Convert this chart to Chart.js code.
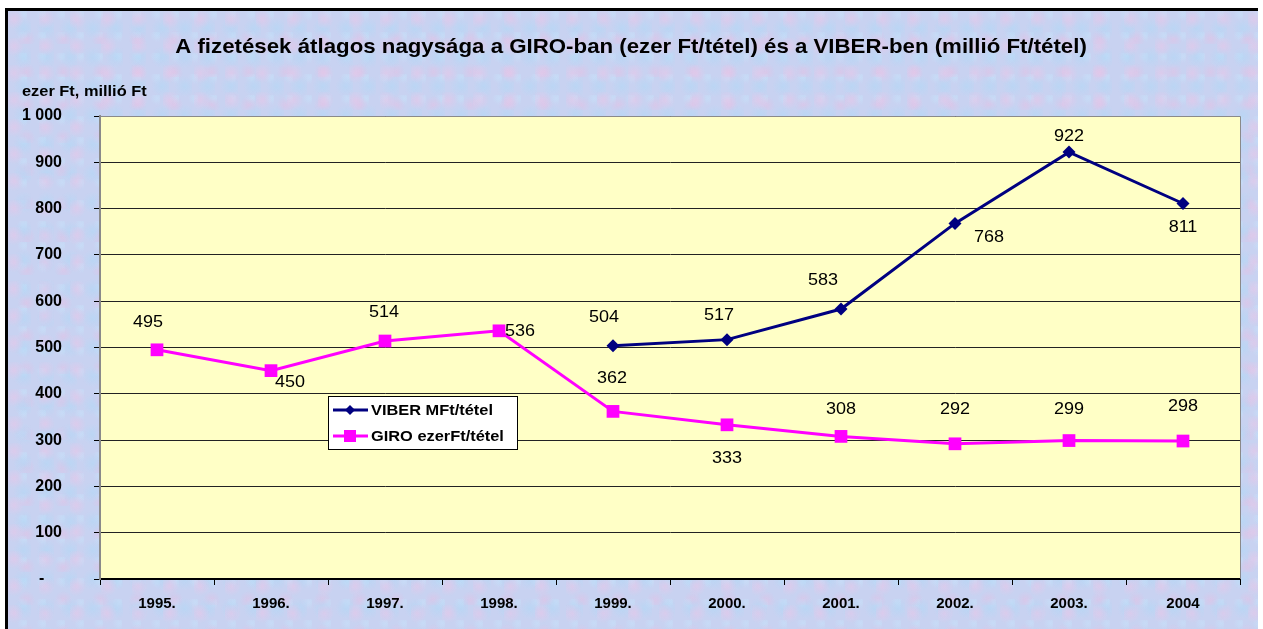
<!DOCTYPE html>
<html>
<head>
<meta charset="utf-8">
<script src="https://cdn.jsdelivr.net/npm/chart.js@4"></script>
<style>
  html, body { margin: 0; padding: 0; background: #fff; }
  body { width: 1263px; height: 629px; position: relative; overflow: hidden; }
  #frame {
    position: absolute; left: 5px; top: 8px; width: 1250px; height: 630px;
    border-left: 3px solid #000; border-top: 3px solid #000;
    background-color: #c8d2f1;
    background-image:
      radial-gradient(circle at 20% 30%, rgba(232,198,232,0.6) 0, rgba(232,198,232,0) 10px),
      radial-gradient(circle at 70% 60%, rgba(178,216,246,0.6) 0, rgba(178,216,246,0) 11px),
      radial-gradient(circle at 50% 85%, rgba(228,192,228,0.55) 0, rgba(228,192,228,0) 9px),
      radial-gradient(circle at 85% 15%, rgba(198,226,250,0.6) 0, rgba(198,226,250,0) 7px);
    background-size: 31px 27px, 23px 29px, 37px 33px, 19px 21px;
  }
  #wrap { position: absolute; left: 0; top: 0; width: 1263px; height: 629px; }
</style>
</head>
<body>
<div id="frame"></div>
<div id="wrap"><canvas id="c" width="1263" height="629"></canvas></div>
<script>
(() => {
  'use strict';

  const years = ['1995.', '1996.', '1997.', '1998.', '1999.', '2000.', '2001.', '2002.', '2003.', '2004'];
  const viber = [null, null, null, null, 504, 517, 583, 768, 922, 811];
  const giro = [495, 450, 514, 536, 362, 333, 308, 292, 299, 298];
  const yTicks = [0, 100, 200, 300, 400, 500, 600, 700, 800, 900, 1000];

  const TITLE = 'A fizetések átlagos nagysága a GIRO-ban (ezer Ft/tétel) és a VIBER-ben (millió Ft/tétel)';
  const Y_TITLE = 'ezer Ft, millió Ft';

  const FONT = 'Arial, "Liberation Sans", sans-serif';

  // label offsets (px) relative to each point, as placed in the original
  const viberLabelOff = [null, null, null, null, [-9, -28], [-8, -24], [-18, -29], [34, 14], [0, -16], [0, 24]];
  const giroLabelOff = [[-9, -28], [19, 12], [-1, -29], [21, 0], [-1, -33], [0, 33], [0, -27], [0, -34], [0, -31], [0, -35]];

  const fmt = v => {
    if (v === 0) return '-    ';
    return String(v).replace(/\B(?=(\d{3})+(?!\d))/g, ' ');
  };

  // text drawn slightly wider, like the stretched original
  function wideText(ctx, txt, x, y, sx) {
    ctx.save();
    ctx.translate(x, y);
    ctx.scale(sx, 1);
    ctx.fillText(txt, 0, 0);
    ctx.restore();
  }

  const chartDecor = {
    id: 'chartDecor',
    beforeDraw(chart) {
      const { ctx, chartArea: a } = chart;
      ctx.save();
      ctx.fillStyle = '#ffffc6';
      ctx.fillRect(a.left, a.top, a.right - a.left, a.bottom - a.top);
      ctx.restore();
    },
    afterDraw(chart) {
      const { ctx, chartArea: a } = chart;
      ctx.save();
      // plot border (top/right)
      ctx.strokeStyle = '#8a8a8a';
      ctx.lineWidth = 1;
      ctx.beginPath();
      ctx.moveTo(a.left, a.top + 0.5);
      ctx.lineTo(a.right + 0.5, a.top + 0.5);
      ctx.lineTo(a.right + 0.5, a.bottom);
      ctx.stroke();

      // titles
      ctx.fillStyle = '#000';
      ctx.font = 'bold 21px ' + FONT;
      ctx.textAlign = 'center';
      ctx.textBaseline = 'middle';
      wideText(ctx, TITLE, 631, 47, 1.06);
      ctx.font = 'bold 14px ' + FONT;
      ctx.textAlign = 'left';
      wideText(ctx, Y_TITLE, 22, 92, 1.17);

      // data labels
      ctx.font = '17px ' + FONT;
      ctx.textAlign = 'center';
      const offs = [viberLabelOff, giroLabelOff];
      chart.data.datasets.forEach((ds, i) => {
        const meta = chart.getDatasetMeta(i);
        meta.data.forEach((pt, j) => {
          const v = ds.data[j];
          if (v === null || !offs[i][j]) return;
          wideText(ctx, String(v), pt.x + offs[i][j][0], pt.y + offs[i][j][1], 1.06);
        });
      });

      // legend box inside the plot
      const lx = 328, ly = 396, lw = 189, lh = 53;
      ctx.fillStyle = '#fff';
      ctx.fillRect(lx, ly, lw, lh);
      ctx.strokeStyle = '#000';
      ctx.lineWidth = 1;
      ctx.strokeRect(lx + 0.5, ly + 0.5, lw, lh);
      const items = [
        { ds: chart.data.datasets[0], y: ly + 14 },
        { ds: chart.data.datasets[1], y: ly + 40 }
      ];
      items.forEach(it => {
        ctx.strokeStyle = it.ds.borderColor;
        ctx.lineWidth = 3;
        ctx.beginPath();
        ctx.moveTo(lx + 5, it.y);
        ctx.lineTo(lx + 40, it.y);
        ctx.stroke();
        ctx.fillStyle = it.ds.borderColor;
        if (it.ds.pointStyle === 'rectRot') {
          ctx.beginPath();
          ctx.moveTo(lx + 22 - 5, it.y);
          ctx.lineTo(lx + 22, it.y - 5);
          ctx.lineTo(lx + 22 + 5, it.y);
          ctx.lineTo(lx + 22, it.y + 5);
          ctx.closePath();
          ctx.fill();
        } else {
          ctx.fillRect(lx + 22 - 6, it.y - 6, 12, 12);
        }
        ctx.fillStyle = '#000';
        ctx.font = 'bold 14px ' + FONT;
        ctx.textAlign = 'left';
        wideText(ctx, it.ds.label, lx + 43, it.y + 1, 1.17);
      });
      ctx.restore();
    }
  };

  new Chart(document.getElementById('c'), {
    type: 'line',
    data: {
      labels: years,
      datasets: [
        {
          label: 'VIBER MFt/tétel',
          data: viber,
          borderColor: '#000080',
          backgroundColor: '#000080',
          borderWidth: 3,
          pointStyle: 'rectRot',
          pointRadius: 6.5,
          pointBorderWidth: 0,
          tension: 0,
          spanGaps: false
        },
        {
          label: 'GIRO ezerFt/tétel',
          data: giro,
          borderColor: '#ff00ff',
          backgroundColor: '#ff00ff',
          borderWidth: 3,
          pointStyle: 'rect',
          pointRadius: 9,
          pointBorderWidth: 0,
          tension: 0
        }
      ]
    },
    options: {
      responsive: false,
      animation: false,
      layout: { padding: { top: 116, right: 23, left: 0, bottom: 0 } },
      plugins: {
        legend: { display: false },
        title: { display: false },
        tooltip: { enabled: false }
      },
      scales: {
        x: {
          offset: true,
          grid: {
            offset: true,
            drawOnChartArea: false,
            drawTicks: true,
            tickLength: 6,
            color: '#000'
          },
          border: { color: '#000', width: 2 },
          ticks: {
            color: '#000',
            font: { family: FONT, size: 15, weight: 'bold' },
            padding: 10,
            maxRotation: 0
          },
          afterFit(scale) { scale.height = 50; }
        },
        y: {
          min: 0,
          max: 1000,
          afterBuildTicks(scale) { scale.ticks = yTicks.map(v => ({ value: v })); },
          grid: {
            color: '#222',
            lineWidth: 1,
            drawTicks: true,
            tickLength: 6,
            tickColor: '#000'
          },
          border: { color: '#8a8a8a', width: 2 },
          ticks: {
            color: '#000',
            font: { family: FONT, size: 16, weight: 'bold' },
            padding: 32,
            callback: v => fmt(v)
          },
          afterFit(scale) { scale.width = 100; }
        }
      }
    },
    plugins: [chartDecor]
  });
})();
</script>
</body>
</html>
